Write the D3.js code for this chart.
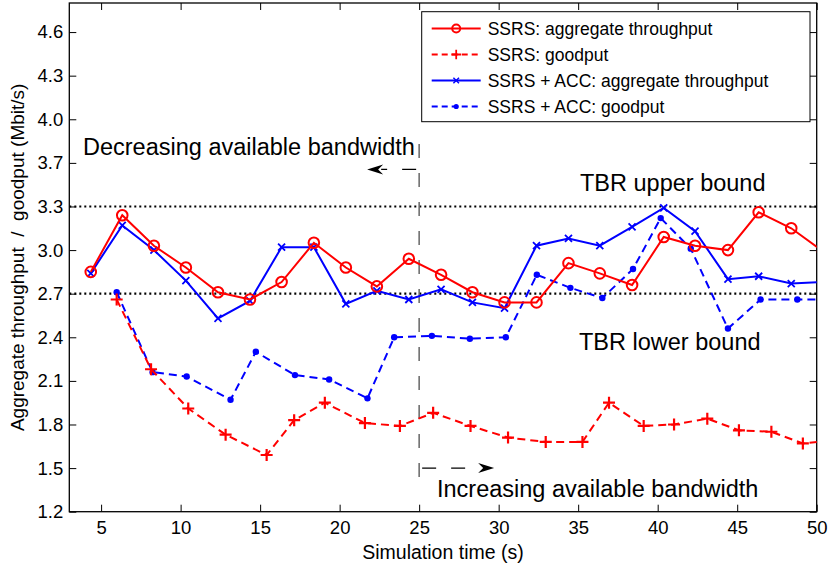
<!DOCTYPE html>
<html>
<head>
<meta charset="utf-8">
<script src="https://cdn.jsdelivr.net/npm/d3@7"></script>
<style>
    body { margin: 0; background: #fff; }
    svg { display: block; font-family: "Liberation Sans", Arial, sans-serif; }
</style>
</head>
<body>
<svg id="chart" width="831" height="568"></svg>
<script>

// time of each sample (s)
let aggTime = [4.35, 6.33, 8.32, 10.33, 12.35, 14.36, 16.35, 18.38, 20.39, 22.34, 24.35, 26.38,
               28.35, 30.37, 32.38, 34.39, 36.36, 38.39, 40.38, 42.35, 44.42, 46.35, 48.40, 50.40];
let ssrsGoodTime = [5.98, 8.14, 10.48, 12.83, 15.41, 17.14, 19.07, 21.59, 23.79, 25.88, 28.23,
                    30.59, 32.96, 35.27, 36.94, 39.12, 41.03, 43.12, 45.11, 47.15, 49.13, 51.10];
let accGoodTime = [5.98, 8.24, 10.38, 13.14, 14.73, 17.19, 19.34, 21.75, 23.43, 25.80, 28.19,
                   30.45, 32.40, 34.51, 36.52, 38.45, 40.19, 42.08, 44.42, 46.47, 48.78, 51.10];

// values (Mbit/s)
let ssrsAgg = [2.85, 3.24, 3.03, 2.88, 2.71, 2.66, 2.78, 3.05, 2.88, 2.75, 2.94, 2.83,
               2.71, 2.64, 2.64, 2.91, 2.84, 2.76, 3.09, 3.03, 3.00, 3.26, 3.15, 2.99];
let accAgg = [2.84, 3.17, 3.00, 2.79, 2.53, 2.65, 3.02, 3.02, 2.63, 2.72, 2.66, 2.73,
              2.64, 2.60, 3.03, 3.08, 3.03, 3.16, 3.29, 3.13, 2.80, 2.82, 2.77, 2.78];
let ssrsGood = [2.66, 2.18, 1.91, 1.73, 1.59, 1.83, 1.95, 1.81, 1.79, 1.88, 1.79,
                1.71, 1.68, 1.68, 1.95, 1.79, 1.80, 1.84, 1.76, 1.75, 1.67, 1.69];
let accGood = [2.71, 2.16, 2.13, 1.97, 2.30, 2.14, 2.11, 1.98, 2.40, 2.41, 2.39,
               2.40, 2.83, 2.74, 2.67, 2.87, 3.22, 3.01, 2.46, 2.66, 2.66, 2.66];

let seriesNames = ["SSRS: aggregate throughput", "SSRS: goodput",
                   "SSRS + ACC: aggregate throughput", "SSRS + ACC: goodput"];

let xTicks = [5, 10, 15, 20, 25, 30, 35, 40, 45, 50];
let yTicks = [1.2, 1.5, 1.8, 2.1, 2.4, 2.7, 3.0, 3.3, 3.6, 3.9, 4.2, 4.5];
let yTickLabels = ["1.2", "1.5", "1.8", "2.1", "2.4", "2.7", "3.0", "3.3", "3.7", "4.0", "4.3", "4.6"];

let tbrBounds = [3.3, 2.7];
let boundaryTime = 25;

let width = 831;
let height = 568;
let margin = {left: 69.3, right: 14.3, top: 3, bottom: 56.3};

let svg = d3.select("#chart");

let xScale = d3.scaleLinear()
    .domain([3, 50])
    .range([margin.left, width - margin.right]);
let yScale = d3.scaleLinear()
    .domain([1.2, 4.7])
    .range([height - margin.bottom, margin.top]);

let x0 = xScale.range()[0], x1 = xScale.range()[1];
let y0 = yScale.range()[0], y1 = yScale.range()[1];

svg.append("defs").append("clipPath").attr("id", "plotclip")
    .append("rect")
    .attr("x", x0).attr("y", y1)
    .attr("width", x1 - x0).attr("height", y0 - y1);

//draw axes (MATLAB box with ticks inside on all four sides)
let tickLen = 7;
let fmtY = d => yTickLabels[yTicks.indexOf(d)];

svg.append("g")
    .attr("transform", "translate(0," + y0 + ")")
    .call(d3.axisBottom(xScale).tickValues(xTicks).tickSizeInner(-tickLen).tickSizeOuter(0).tickPadding(9))
    .call(g => g.selectAll("text").attr("font-size", 18.5).attr("fill", "#000"));
svg.append("g")
    .attr("transform", "translate(0," + y1 + ")")
    .call(d3.axisTop(xScale).tickValues(xTicks).tickSizeInner(-tickLen).tickSizeOuter(0).tickFormat(""));
svg.append("g")
    .attr("transform", "translate(" + x0 + ",0)")
    .call(d3.axisLeft(yScale).tickValues(yTicks).tickFormat(fmtY).tickSizeInner(-tickLen).tickSizeOuter(0).tickPadding(6))
    .call(g => g.selectAll("text").attr("font-size", 18.5).attr("fill", "#000"));
svg.append("g")
    .attr("transform", "translate(" + x1 + ",0)")
    .call(d3.axisRight(yScale).tickValues(yTicks).tickSizeInner(-tickLen).tickSizeOuter(0).tickFormat(""));

svg.selectAll(".domain").remove();
svg.selectAll(".tick line").attr("stroke", "#000").attr("stroke-width", 1);
svg.selectAll("g[font-family]").attr("font-family", null);

svg.append("rect")
    .attr("x", x0).attr("y", y1)
    .attr("width", x1 - x0).attr("height", y0 - y1)
    .attr("fill", "none").attr("stroke", "#000").attr("stroke-width", 1.3);

//axis labels
svg.append("text")
    .attr("x", (x0 + x1) / 2).attr("y", 559)
    .attr("text-anchor", "middle").attr("font-size", 19.5)
    .text("Simulation time (s)");
svg.append("text")
    .attr("transform", "translate(24," + ((y0 + y1) / 2) + ") rotate(-90)")
    .attr("text-anchor", "middle").attr("font-size", 19)
    .style("white-space", "pre")
    .text("Aggregate throughput  /  goodput (Mbit/s)");

let plot = svg.append("g").attr("clip-path", "url(#plotclip)");

//TBR bounds
plot.selectAll(".bound")
    .data(tbrBounds)
    .enter().append("line")
    .attr("class", "bound")
    .attr("x1", x0).attr("x2", x1)
    .attr("y1", d => yScale(d)).attr("y2", d => yScale(d))
    .attr("stroke", "#000").attr("stroke-width", 2.2)
    .attr("stroke-dasharray", "2,3");

//boundary between decreasing / increasing bandwidth
plot.append("line")
    .attr("x1", xScale(boundaryTime)).attr("x2", xScale(boundaryTime))
    .attr("y1", yScale(3.73)).attr("y2", yScale(1.38))
    .attr("stroke", "#666").attr("stroke-width", 1.5)
    .attr("stroke-dasharray", "14,15");

function arrow(yv, dir, len) {
    let xa = xScale(boundaryTime);
    let yy = yScale(yv);
    let tip = xa + dir * len;
    svg.append("line")
        .attr("x1", xa + dir * 3).attr("x2", tip - dir * 14)
        .attr("y1", yy).attr("y2", yy)
        .attr("stroke", "#000").attr("stroke-width", 1.2)
        .attr("stroke-dasharray", "14,15");
    svg.append("path")
        .attr("d", "M" + tip + "," + yy + "L" + (tip - dir * 16) + "," + (yy - 5) +
              "L" + (tip - dir * 11) + "," + yy + "L" + (tip - dir * 16) + "," + (yy + 5) + "Z")
        .attr("fill", "#000");
}
arrow(3.555, -1, 52);
arrow(1.5, 1, 75);

let annotations = [
    {text: "Decreasing available bandwidth", x: 83, y: 155},
    {text: "TBR upper bound", x: 580, y: 191},
    {text: "TBR lower bound", x: 579, y: 350},
    {text: "Increasing available bandwidth", x: 437, y: 497}
];
svg.selectAll(".annot")
    .data(annotations)
    .enter().append("text")
    .attr("class", "annot")
    .attr("x", d => d.x).attr("y", d => d.y)
    .attr("font-size", 23.5)
    .text(d => d.text);

//series
let series = [
    {name: seriesNames[0], t: aggTime, v: ssrsAgg, color: "#ff0000", dash: null, marker: "circle"},
    {name: seriesNames[1], t: ssrsGoodTime, v: ssrsGood, color: "#ff0000", dash: "8,5", marker: "plus"},
    {name: seriesNames[2], t: aggTime, v: accAgg, color: "#0000ff", dash: null, marker: "cross"},
    {name: seriesNames[3], t: accGoodTime, v: accGood, color: "#0000ff", dash: "8,5", marker: "dot"}
];

function drawMarker(g, type, color) {
    if (type == "circle")
        g.append("circle").attr("r", 5.3).attr("fill", "none").attr("stroke", color).attr("stroke-width", 2);
    else if (type == "plus")
        g.append("path").attr("d", "M-6,0H6M0,-6V6").attr("stroke", color).attr("stroke-width", 2.2);
    else if (type == "cross")
        g.append("path").attr("d", "M-3.5,-3.5L3.5,3.5M-3.5,3.5L3.5,-3.5").attr("stroke", color).attr("stroke-width", 1.8);
    else if (type == "dot")
        g.append("circle").attr("r", 3.2).attr("fill", color);
}

let line = d3.line()
    .x(d => xScale(d[0]))
    .y(d => yScale(d[1]));

// draw goodput first, aggregate on top
for (let s of [series[3], series[1], series[2], series[0]]) {
    let pts = s.t.map((t, i) => [t, s.v[i]]);
    plot.append("path")
        .attr("d", line(pts))
        .attr("fill", "none")
        .attr("stroke", s.color)
        .attr("stroke-width", 2)
        .attr("stroke-dasharray", s.dash);
    let marks = plot.selectAll(null)
        .data(pts)
        .enter().append("g")
        .attr("transform", d => "translate(" + xScale(d[0]) + "," + yScale(d[1]) + ")");
    marks.each(function () { drawMarker(d3.select(this), s.marker, s.color); });
}

//legend
let legend = svg.append("g");
legend.append("rect")
    .attr("x", 421.7).attr("y", 11.7)
    .attr("width", 388.3).attr("height", 110)
    .attr("fill", "#fff").attr("stroke", "#000").attr("stroke-width", 1);
let rows = legend.selectAll(".row")
    .data(series)
    .enter().append("g")
    .attr("class", "row")
    .attr("transform", (d, i) => "translate(431.7," + (28.5 + i * 26) + ")");
rows.append("line")
    .attr("x1", 0).attr("x2", 49)
    .attr("stroke", d => d.color).attr("stroke-width", 2)
    .attr("stroke-dasharray", d => d.dash ? "6,4" : null);
rows.each(function (d) {
    let m = d3.select(this).append("g").attr("transform", "translate(24.5,0)");
    drawMarker(m, d.marker, d.color);
    m.selectAll("circle").attr("r", function () { return d.marker == "circle" ? 4 : 2.6; });
    m.selectAll("path").attr("transform", "scale(0.8)");
});
rows.append("text")
    .attr("x", 56).attr("y", 6.5)
    .attr("font-size", 17.5)
    .text(d => d.name);

</script>
</body>
</html>
